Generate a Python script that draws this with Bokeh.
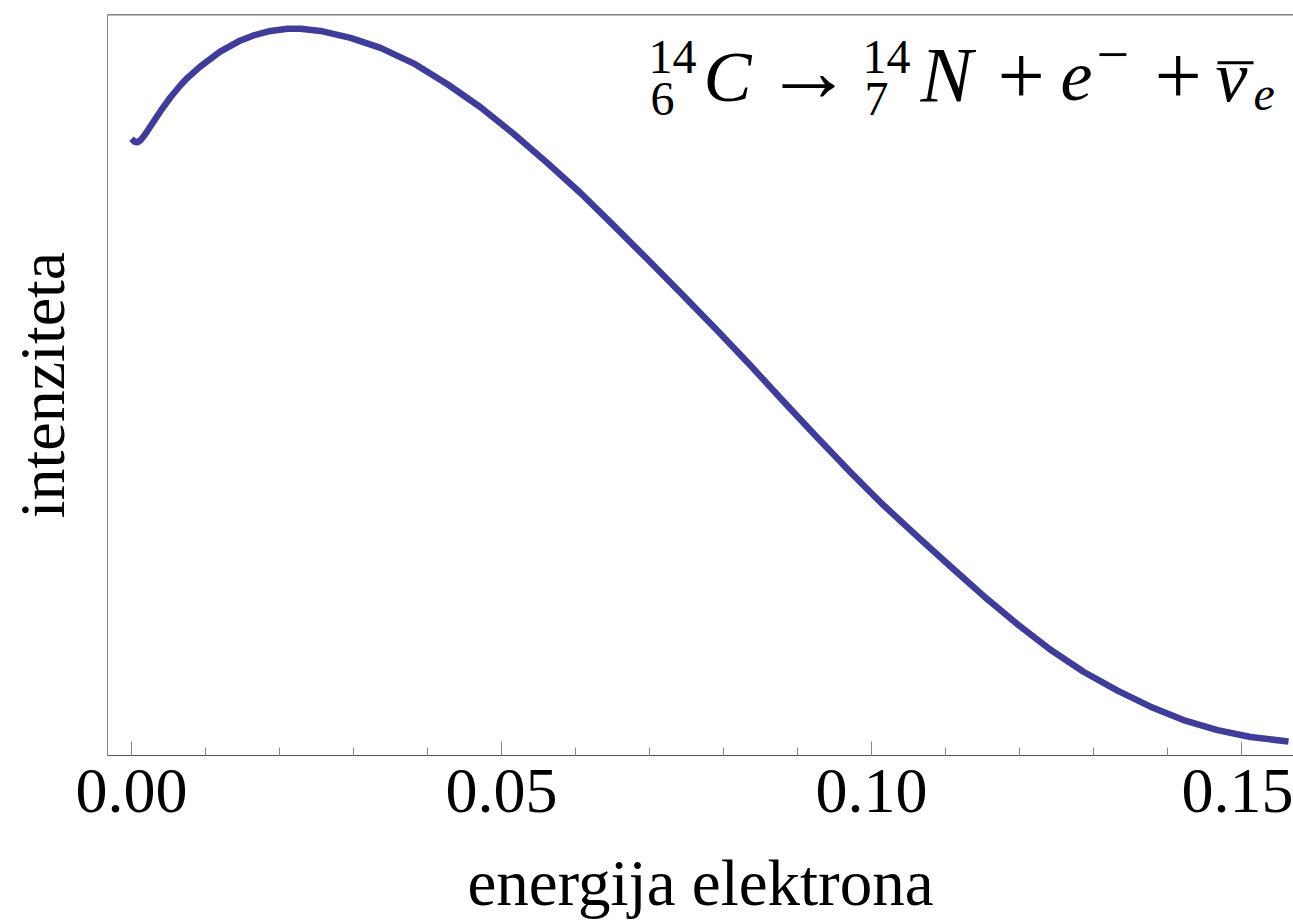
from bokeh.plotting import figure
from bokeh.models import Range1d, FixedTicker, NumeralTickFormatter, Label, Span, BoxAnnotation
from bokeh.embed import file_html
from bokeh.resources import INLINE

# ---- data ----
energy = [0.00000, 0.00041, 0.00081, 0.00122, 0.00176, 0.00230, 0.00297, 0.00392,
          0.00527, 0.00662, 0.00757, 0.00932, 0.01203, 0.01473, 0.01649, 0.01878,
          0.02108, 0.02284, 0.02554, 0.02959, 0.03365, 0.03811, 0.04270, 0.04716,
          0.05162, 0.05622, 0.06068, 0.06514, 0.06973, 0.07419, 0.07919, 0.08365,
          0.08811, 0.09270, 0.09716, 0.10162, 0.10622, 0.11068, 0.11514, 0.11973,
          0.12419, 0.12865, 0.13324, 0.13770, 0.14216, 0.14676, 0.15122, 0.15635]
intensity = [0.8466, 0.8424, 0.8417, 0.8445, 0.8515, 0.8599, 0.8704, 0.8852,
             0.9048, 0.9216, 0.9321, 0.9482, 0.9692, 0.9846, 0.9916, 0.9979,
             1.0010, 1.0011, 0.9979, 0.9881, 0.9741, 0.9524, 0.9230, 0.8908,
             0.8536, 0.8123, 0.7703, 0.7248, 0.6772, 0.6303, 0.5770, 0.5280,
             0.4776, 0.4265, 0.3782, 0.3319, 0.2878, 0.2458, 0.2045, 0.1646,
             0.1289, 0.0980, 0.0714, 0.0490, 0.0301, 0.0161, 0.0063, 0.0000]

major_ticks = [0.00, 0.05, 0.10, 0.15]
minor_ticks = [0.01, 0.02, 0.03, 0.04, 0.06, 0.07, 0.08, 0.09, 0.11, 0.12, 0.13, 0.14]
x_title = "energija elektrona"
y_title = "intenziteta"


def dx(px):
    return (px - 131) / 7400.0


def dy(py):
    return (743 - py) / 714.0


p = figure(width=1293, height=921, output_backend="svg", toolbar_location=None,
           x_range=Range1d(dx(107), dx(1293)), y_range=Range1d(dy(757), dy(14)),
           min_border_left=107, min_border_top=14, min_border_bottom=164, min_border_right=0)
p.outline_line_color = None
p.xgrid.visible = False
p.ygrid.visible = False
p.background_fill_color = "white"
p.border_fill_color = "white"

p.line(energy, intensity, line_color="#3f3d99", line_width=6.5, line_join="round")

xa = p.xaxis[0]
xa.ticker = FixedTicker(ticks=major_ticks, minor_ticks=minor_ticks)
xa.formatter = NumeralTickFormatter(format="0.00")
xa.major_tick_in = 14
xa.major_tick_out = 0
xa.minor_tick_in = 8
xa.minor_tick_out = 0
xa.axis_line_color = "#555555"
xa.major_tick_line_color = "#888888"
xa.minor_tick_line_color = "#888888"
xa.major_label_text_font = "Liberation Serif"
xa.major_label_text_font_size = "64px"
xa.major_label_text_color = "black"
xa.major_label_standoff = 14
xa.axis_label = x_title
xa.axis_label_text_font = "Liberation Serif"
xa.axis_label_text_font_size = "65px"
xa.axis_label_text_font_style = "normal"
xa.axis_label_text_color = "black"
xa.axis_label_standoff = 32

ya = p.yaxis[0]
ya.ticker = FixedTicker(ticks=[])
ya.axis_line_color = "#888888"
ya.major_tick_line_color = None
ya.minor_tick_line_color = None
ya.axis_label = y_title
ya.axis_label_text_font = "Liberation Serif"
ya.axis_label_text_font_size = "64px"
ya.axis_label_text_font_style = "normal"
ya.axis_label_text_color = "black"
ya.axis_label_standoff = 30

p.add_layout(Span(location=dy(14), dimension="width", line_color="black", line_width=1.5))

# equation: text, origin x px, baseline y px, size, style
eq = [
    ("14", 648, 72, 48, "normal"),
    ("6", 650, 115, 48, "normal"),
    ("C", 703, 100, 72, "italic"),
    ("\u2192", 764, 100, 88, "normal"),
    ("14", 862, 72, 48, "normal"),
    ("7", 864, 115, 48, "normal"),
    ("N", 920, 100, 78, "italic"),
    ("+", 997, 103, 84, "normal"),
    ("e", 1060, 100, 72, "italic"),
    ("\u2212", 1096, 74, 58, "normal"),
    ("+", 1154, 103, 84, "normal"),
    ("\u03bd", 1215, 100, 72, "italic"),
    ("e", 1253, 110, 48, "italic"),
]
for t, px, py, sz, st in eq:
    p.add_layout(Label(x=dx(px), y=dy(py - 0.33 * sz), text=t, text_font="Liberation Serif",
                       text_font_size=f"{sz}px", text_font_style=st, text_color="black",
                       text_baseline="alphabetic", text_align="left"))

p.add_layout(BoxAnnotation(left=dx(1217), right=dx(1253), top=dy(61), bottom=dy(64),
                           fill_color="black", fill_alpha=1.0, line_color=None))

open("out.html", "w").write(file_html(p, INLINE))
